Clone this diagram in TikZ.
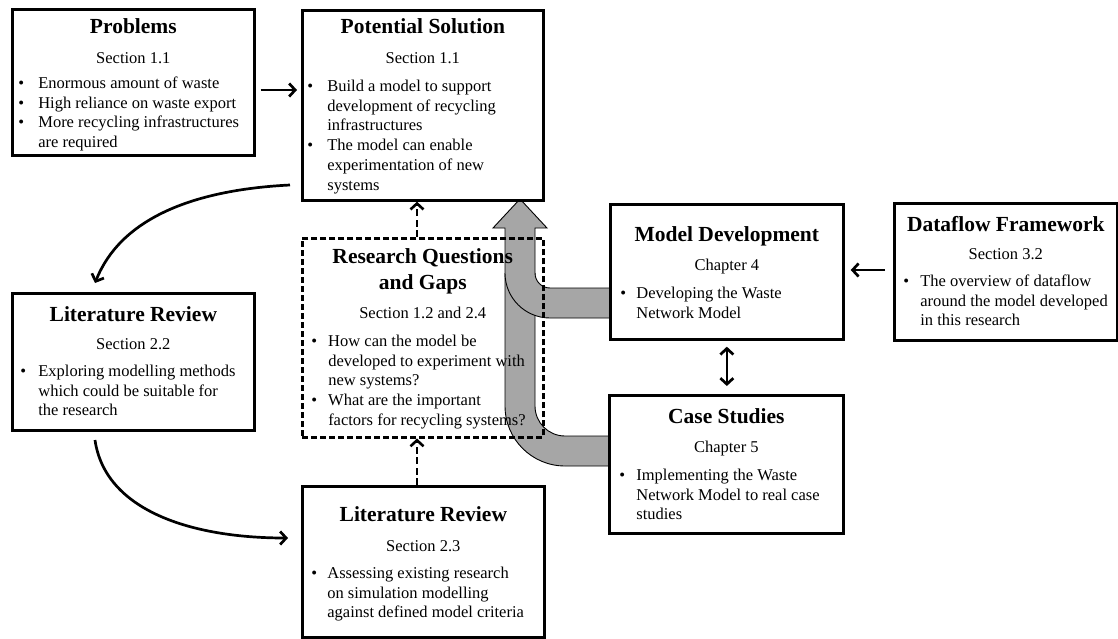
\documentclass[tikz,border=0pt]{standalone}
\usepackage{fontspec}
\setmainfont{Liberation Serif}
\usetikzlibrary{arrows.meta}
\definecolor{arrowgray}{RGB}{166,166,166}
\newlength\bL
\newlength\bT
\newcommand\titlef{\fontsize{21.5pt}{26pt}\selectfont\bfseries}
\newcommand\bodyf{\fontsize{16.5pt}{19.8pt}\selectfont}
\newcommand\bitem[1]{\par\hangindent=\bT\hangafter=1\noindent\makebox[\bT][l]{\hspace*{\bL}\textbullet}#1}
\newcommand\bx[8]{\bodyf\parskip=0pt{\centering\titlef\rule{0pt}{#1}#2\par}\vspace{#3}{\centering #4\par}\vspace{#5}\setlength\bL{#6}\setlength\bT{#7}\raggedright #8\par}
\tikzset{
  box/.style={draw, line width=2.7pt, inner sep=0pt, anchor=north west, fill=white},
  qbox/.style={draw, line width=2.5pt, inner sep=0pt, anchor=north west, dash pattern=on 6pt off 3pt},
  conn/.style={line width=2.7pt, -{Straight Barb[length=6pt,width=13pt]}},
  dconn/.style={line width=2.6pt, dash pattern=on 7pt off 3.5pt, -{Straight Barb[length=6pt,width=13pt]}},
  dbl/.style={line width=2.7pt, {Straight Barb[length=6pt,width=13pt]}-{Straight Barb[length=6pt,width=13pt]}},
  garrow/.style={fill=arrowgray, draw=black, line width=0.9pt}
}
\begin{document}
\begin{tikzpicture}[x=1pt,y=-1pt]
\useasboundingbox (0,0) rectangle (1118,639);

% big gray merging arrow
\draw[garrow] (610,466) -- (565,466) .. controls (531.9,466) and (505,439.1) .. (505,406)
  -- (505,228) -- (493,228) -- (520,199) -- (547,228) -- (535,228) -- (535,406)
  .. controls (535,422.6) and (548.4,436) .. (565,436) -- (610,436) -- cycle;
\fill[arrowgray] (610,318) -- (550,318) .. controls (525.1,318) and (505,297.9) .. (505,273)
  -- (535,273) .. controls (535,281.3) and (541.7,288) .. (550,288) -- (610,288) -- cycle;
\draw[black, line width=0.9pt] (610,318) -- (550,318) .. controls (525.1,318) and (505,297.9) .. (505,273);
\draw[black, line width=0.9pt] (535,273) .. controls (535,281.3) and (541.7,288) .. (550,288) -- (610,288);

\node[box] (prob) at (11,8) {\parbox[t][146pt][t]{242pt}{\bx{23.7pt}{Problems}{10.2pt}{Section 1.1}{5.5pt}{6pt}{26pt}{%
  \bitem{Enormous amount of waste}%
  \bitem{High reliance on waste export}%
  \bitem{More recycling infrastructures\newline are required}}}};

\node[box] (ps) at (301,9) {\parbox[t][190pt][t]{241pt}{\bx{23pt}{Potential Solution}{10.2pt}{Section 1.1}{8.2pt}{5pt}{25pt}{%
  \bitem{Build a model to support\newline development of recycling\newline infrastructures}%
  \bitem{The model can enable\newline experimentation of new\newline systems}}}};

\node[qbox] (rq) at (301,237) {\parbox[t][199pt][t]{241pt}{\bx{25pt}{Research Questions\\and Gaps}{9.2pt}{Section 1.2 and 2.4}{8.2pt}{9pt}{26pt}{%
  \bitem{How can the model be\newline developed to experiment with\newline new systems?}%
  \bitem{What are the important\newline factors for recycling systems?}}}};

\node[box] (md) at (609,203) {\parbox[t][135pt][t]{233pt}{\bx{37pt}{Model Development}{9.2pt}{Chapter 4}{8.2pt}{10pt}{26pt}{%
  \bitem{Developing the Waste\newline Network Model}}}};

\node[box] (cs) at (608,394) {\parbox[t][138pt][t]{234pt}{\bx{28pt}{Case Studies}{9.2pt}{Chapter 5}{8.2pt}{10pt}{27pt}{%
  \bitem{Implementing the Waste\newline Network Model to real case\newline studies}}}};

\node[box] (df) at (893,202) {\parbox[t][137pt][t]{223pt}{\bx{28pt}{Dataflow Framework}{8.2pt}{Section 3.2}{7.2pt}{9pt}{26pt}{%
  \bitem{The overview of dataflow\newline around the model developed\newline in this research}}}};

\node[box] (lr1) at (11,292) {\parbox[t][137pt][t]{242pt}{\bx{28pt}{Literature Review}{8.2pt}{Section 2.2}{7.2pt}{8pt}{26pt}{%
  \bitem{Exploring modelling methods\newline which could be suitable for\newline the research}}}};

\node[box] (lr2) at (301,485) {\parbox[t][151pt][t]{242pt}{\bx{35pt}{Literature Review}{10.2pt}{Section 2.3}{7.2pt}{9pt}{25pt}{%
  \bitem{Assessing existing research\newline on simulation modelling\newline against defined model criteria}}}};

% connectors
\draw[conn, shorten <=5pt, shorten >=4pt] (prob.east |- 0,90) -- (ps.west |- 0,90);
\draw[dconn] (rq.north -| 417,0) -- (ps.south -| 417,0);
\draw[dconn] (lr2.north -| 417,0) -- (rq.south -| 417,0);
\draw[dbl, shorten <=6pt, shorten >=8pt] (md.south) -- (md.south |- cs.north);
\draw[conn, shorten <=8pt, shorten >=6pt] (df.west |- 0,270) -- (md.east |- 0,270);
\coordinate (c1s) at (290,185);
\coordinate (c1e) at (95,283);
\draw[conn] (c1s) .. controls (190,190) and (120,220) .. (c1e);
\coordinate (c2s) at (95,440);
\coordinate (c2e) at (288,538);
\draw[conn] (c2s) .. controls (105,510) and (190,538) .. (c2e);
\end{tikzpicture}
\end{document}
